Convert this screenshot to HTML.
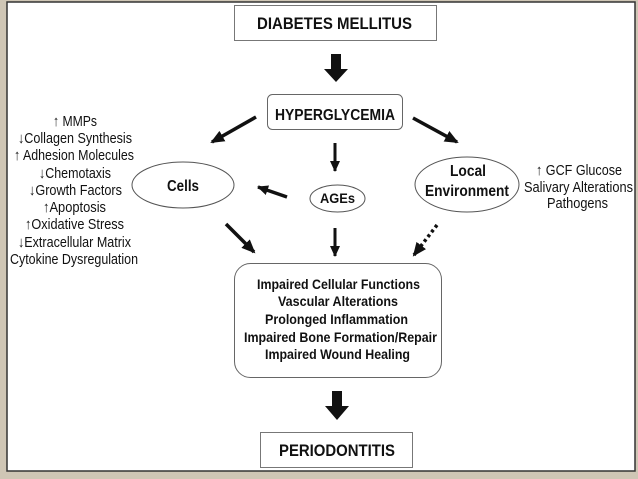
<!DOCTYPE html>
<html><head><meta charset="utf-8"><style>
html,body{margin:0;padding:0;background:#cfc6b5;}
svg{display:block}
text{font-family:"Liberation Sans",sans-serif;fill:#111}
</style></head><body>
<svg width="638" height="479" viewBox="0 0 638 479" xmlns="http://www.w3.org/2000/svg">
<defs>
<marker id="ah" markerWidth="14" markerHeight="12" refX="12" refY="6" orient="auto" markerUnits="userSpaceOnUse"><path d="M0,0 L14,6 L0,12 Z" fill="#111"/></marker>
<marker id="as" markerWidth="11" markerHeight="10" refX="10" refY="5" orient="auto" markerUnits="userSpaceOnUse"><path d="M0,0 L11,5 L0,10 Z" fill="#111"/></marker>
</defs>
<rect x="0" y="0" width="638" height="479" fill="#cfc6b5"/>
<rect x="7" y="2" width="628" height="469" fill="#fff" stroke="#333" stroke-width="1.5"/>

<rect x="234.5" y="5.5" width="202" height="35" fill="#fff" stroke="#777"/>
<text x="257" y="29" font-size="17" font-weight="bold" textLength="155" lengthAdjust="spacingAndGlyphs">DIABETES MELLITUS</text>
<path d="M331,54 h10 v15 h7 l-12,13 l-12,-13 h7 z" fill="#111"/>

<rect x="267.5" y="94.5" width="135" height="35" rx="5" fill="#fff" stroke="#666"/>
<text x="275" y="120" font-size="16" font-weight="bold" textLength="120" lengthAdjust="spacingAndGlyphs">HYPERGLYCEMIA</text>

<line x1="256" y1="117" x2="212" y2="142" stroke="#111" stroke-width="3.5" marker-end="url(#ah)"/>
<line x1="413" y1="118" x2="457" y2="142" stroke="#111" stroke-width="3.5" marker-end="url(#ah)"/>
<line x1="335" y1="143" x2="335" y2="171" stroke="#111" stroke-width="3" marker-end="url(#as)"/>

<ellipse cx="183" cy="185" rx="51" ry="23" fill="#fff" stroke="#555"/>
<text x="167" y="191" font-size="16" font-weight="bold" textLength="32" lengthAdjust="spacingAndGlyphs">Cells</text>
<ellipse cx="337.5" cy="198.5" rx="27.5" ry="13.5" fill="#fff" stroke="#555"/>
<text x="320" y="203" font-size="14" font-weight="bold" textLength="35" lengthAdjust="spacingAndGlyphs">AGEs</text>
<ellipse cx="467" cy="184.5" rx="52" ry="27.5" fill="#fff" stroke="#555"/>
<text x="450" y="176" font-size="16" font-weight="bold" textLength="36" lengthAdjust="spacingAndGlyphs">Local</text>
<text x="425" y="196" font-size="16" font-weight="bold" textLength="84" lengthAdjust="spacingAndGlyphs">Environment</text>

<line x1="287" y1="197" x2="258" y2="187" stroke="#111" stroke-width="3.5" marker-end="url(#as)"/>

<g font-size="15">
<text x="53" y="126" textLength="44" lengthAdjust="spacingAndGlyphs">↑ MMPs</text>
<text x="18" y="143" textLength="114" lengthAdjust="spacingAndGlyphs">↓Collagen Synthesis</text>
<text x="14" y="160" textLength="120" lengthAdjust="spacingAndGlyphs">↑ Adhesion Molecules</text>
<text x="39" y="178" textLength="72" lengthAdjust="spacingAndGlyphs">↓Chemotaxis</text>
<text x="29" y="195" textLength="93" lengthAdjust="spacingAndGlyphs">↓Growth Factors</text>
<text x="43" y="212" textLength="63" lengthAdjust="spacingAndGlyphs">↑Apoptosis</text>
<text x="25" y="229" textLength="99" lengthAdjust="spacingAndGlyphs">↑Oxidative Stress</text>
<text x="18" y="247" textLength="113" lengthAdjust="spacingAndGlyphs">↓Extracellular Matrix</text>
<text x="10" y="264" textLength="128" lengthAdjust="spacingAndGlyphs">Cytokine Dysregulation</text>
<text x="536" y="175" textLength="86" lengthAdjust="spacingAndGlyphs">↑ GCF Glucose</text>
<text x="524" y="192" textLength="109" lengthAdjust="spacingAndGlyphs">Salivary Alterations</text>
<text x="547" y="208" textLength="61" lengthAdjust="spacingAndGlyphs">Pathogens</text>
</g>

<line x1="226" y1="224" x2="254" y2="252" stroke="#111" stroke-width="3.5" marker-end="url(#ah)"/>
<line x1="335" y1="228" x2="335" y2="256" stroke="#111" stroke-width="3" marker-end="url(#as)"/>
<line x1="437" y1="225" x2="414" y2="255" stroke="#111" stroke-width="3.5" stroke-dasharray="3,3" marker-end="url(#ah)"/>

<rect x="234.5" y="263.5" width="207" height="114" rx="16" fill="#fff" stroke="#666"/>
<g font-size="14" font-weight="bold">
<text x="257" y="289" textLength="163" lengthAdjust="spacingAndGlyphs">Impaired Cellular Functions</text>
<text x="278" y="306" textLength="120" lengthAdjust="spacingAndGlyphs">Vascular Alterations</text>
<text x="265" y="324" textLength="143" lengthAdjust="spacingAndGlyphs">Prolonged Inflammation</text>
<text x="244" y="342" textLength="193" lengthAdjust="spacingAndGlyphs">Impaired Bone Formation/Repair</text>
<text x="265" y="359" textLength="145" lengthAdjust="spacingAndGlyphs">Impaired Wound Healing</text>
</g>

<path d="M332,391 h10 v15 h7 l-12,14 l-12,-14 h7 z" fill="#111"/>
<rect x="260.5" y="432.5" width="152" height="35" fill="#fff" stroke="#777"/>
<text x="279" y="456" font-size="17" font-weight="bold" textLength="116" lengthAdjust="spacingAndGlyphs">PERIODONTITIS</text>
</svg>
</body></html>
